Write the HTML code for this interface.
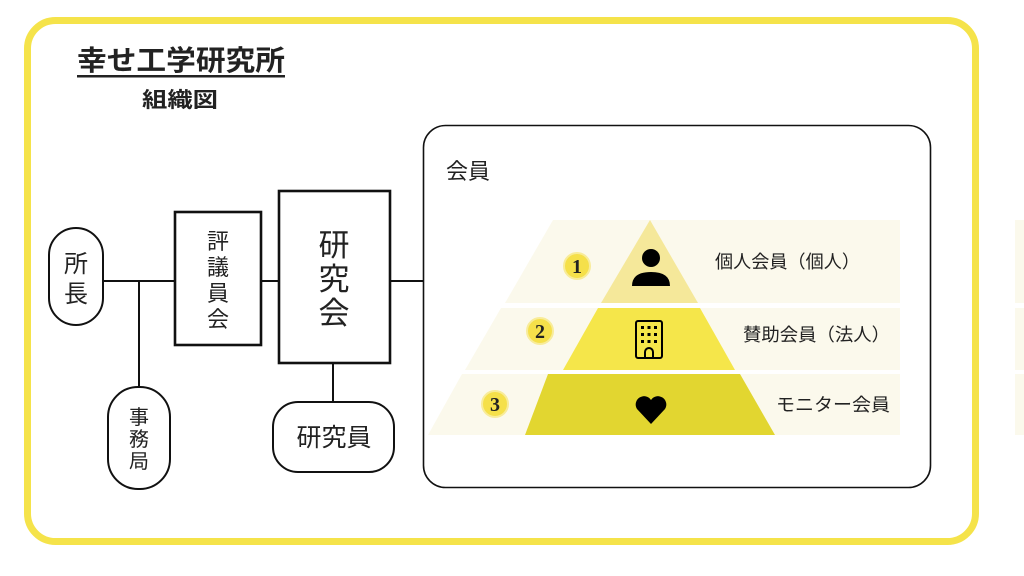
<!DOCTYPE html>
<html><head><meta charset="utf-8"><style>
html,body{margin:0;padding:0;background:#fff;width:1024px;height:576px;overflow:hidden}
svg text{font-family:"Liberation Sans","Noto Sans CJK JP",sans-serif;fill:#222}
</style></head><body>
<svg width="1024" height="576" viewBox="0 0 1024 576" xmlns="http://www.w3.org/2000/svg">
<rect x="27.5" y="20.5" width="948" height="521" rx="28" fill="#fff" stroke="#f5e34a" stroke-width="7"/>
<rect x="1015" y="220" width="9" height="83" fill="#fbf9ec"/>
<rect x="1015" y="308" width="9" height="62" fill="#fbf9ec"/>
<rect x="1015" y="374" width="9" height="61" fill="#fbf9ec"/>
<text x="77" y="70" font-size="28" font-weight="bold" textLength="208" lengthAdjust="spacingAndGlyphs">幸せ工学研究所</text>
<rect x="77" y="75" width="208" height="2.5" fill="#222"/>
<text x="142" y="107" font-size="21" font-weight="bold" textLength="76" lengthAdjust="spacingAndGlyphs">組織図</text>
<g fill="none" stroke="#111" stroke-width="2">
<line x1="103" y1="281" x2="175" y2="281"/>
<line x1="139" y1="281" x2="139" y2="387"/>
<line x1="261" y1="281" x2="278" y2="281"/>
<line x1="390" y1="281" x2="423" y2="281"/>
<line x1="333" y1="363" x2="333" y2="402"/>
<rect x="49" y="228" width="54" height="97" rx="27" fill="#fff"/>
<rect x="108" y="387" width="62" height="102" rx="30" fill="#fff"/>
<rect x="273" y="402" width="121" height="70" rx="25" fill="#fff"/>
<rect x="423.5" y="125.5" width="507" height="362" rx="22" fill="#fff" stroke-width="1.6"/>
</g>
<g fill="#fff" stroke="#111" stroke-width="2.6">
<rect x="175" y="212" width="86" height="133"/>
<rect x="279" y="191" width="111" height="172"/>
</g>
<text x="76" y="272" font-size="24" text-anchor="middle">所</text>
<text x="76" y="302" font-size="24" text-anchor="middle">長</text>
<text x="139" y="424" font-size="20" text-anchor="middle">事</text>
<text x="139" y="446" font-size="20" text-anchor="middle">務</text>
<text x="139" y="468" font-size="20" text-anchor="middle">局</text>
<text x="218" y="249" font-size="22" text-anchor="middle">評</text>
<text x="218" y="275" font-size="22" text-anchor="middle">議</text>
<text x="218" y="301" font-size="22" text-anchor="middle">員</text>
<text x="218" y="327" font-size="22" text-anchor="middle">会</text>
<text x="334" y="256" font-size="31" text-anchor="middle">研</text>
<text x="334" y="290" font-size="31" text-anchor="middle">究</text>
<text x="334" y="324" font-size="31" text-anchor="middle">会</text>
<text x="334" y="446" font-size="25" text-anchor="middle">研究員</text>
<text x="446" y="179" font-size="22">会員</text>
<polygon points="553,220 900,220 900,303 505,303" fill="#fbf9ec"/>
<polygon points="501,308 900,308 900,370 465,370" fill="#fbf9ec"/>
<polygon points="462,374 900,374 900,435 428,435" fill="#fbf9ec"/>
<polygon points="650,220 698,303 601,303" fill="#f5e89a"/>
<polygon points="598,308 700,308 735,370 563,370" fill="#f5e64a"/>
<polygon points="548,374 740,374 775,435 525,435" fill="#e2d630"/>
<circle cx="651" cy="258" r="9" fill="#000"/>
<path d="M632 286 q0 -14 19 -14 q19 0 19 14 z" fill="#000"/>
<rect x="636" y="321" width="26" height="37" rx="2" fill="none" stroke="#000" stroke-width="2"/>
<g fill="#000"><rect x="641" y="326" width="3" height="3"/><rect x="647.5" y="326" width="3" height="3"/><rect x="654" y="326" width="3" height="3"/><rect x="641" y="333" width="3" height="3"/><rect x="647.5" y="333" width="3" height="3"/><rect x="654" y="333" width="3" height="3"/><rect x="641" y="340" width="3" height="3"/><rect x="647.5" y="340" width="3" height="3"/><rect x="654" y="340" width="3" height="3"/></g>
<path d="M645 358 v-6 a4 4 0 0 1 8 0 v6" fill="none" stroke="#000" stroke-width="2"/>
<path d="M651 424 L637 409 a7.5 7.5 0 0 1 14 -9 a7.5 7.5 0 0 1 14 9 z" fill="#000"/>
<g stroke="#f8ec9a" stroke-width="2" fill="#f5e04a">
<circle cx="577" cy="266" r="13"/><circle cx="540" cy="331" r="13"/><circle cx="495" cy="404" r="13"/>
</g>
<g font-weight="bold" font-size="20" text-anchor="middle">
<text x="577" y="273" style="font-family:'Liberation Serif',serif" fill="#111">1</text>
<text x="540" y="338" style="font-family:'Liberation Serif',serif" fill="#111">2</text>
<text x="495" y="411" style="font-family:'Liberation Serif',serif" fill="#444">3</text>
</g>
<text x="715" y="268" font-size="18" textLength="145" lengthAdjust="spacingAndGlyphs">個人会員（個人）</text>
<text x="743" y="341" font-size="18" textLength="147" lengthAdjust="spacingAndGlyphs">賛助会員（法人）</text>
<text x="776" y="411" font-size="18" textLength="114" lengthAdjust="spacingAndGlyphs">モニター会員</text>
</svg>
</body></html>
